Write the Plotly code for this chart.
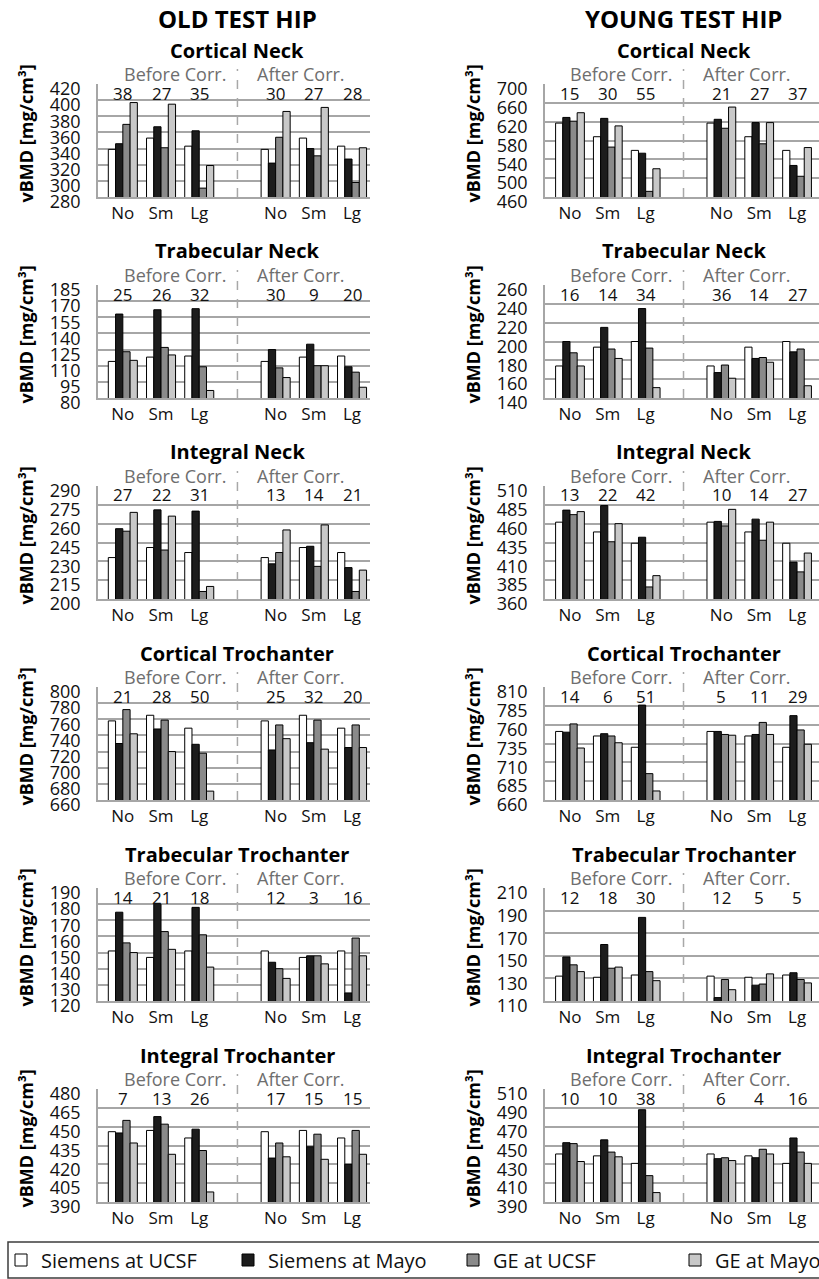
import plotly.graph_objects as go

# ---------------- data ----------------
categories = ["No", "Sm", "Lg"]
phase_labels = ["Before Corr.", "After Corr."]
series_names = ["Siemens at UCSF", "Siemens at Mayo", "GE at UCSF", "GE at Mayo"]
series_colors = ["#ffffff", "#1c1c1c", "#8a8a8a", "#c8c8c8"]
column_titles = ["OLD TEST HIP", "YOUNG TEST HIP"]
panel_titles = ["Cortical Neck", "Trabecular Neck", "Integral Neck",
                "Cortical Trochanter", "Trabecular Trochanter", "Integral Trochanter"]

# Each list of 4 rows = Siemens UCSF, Siemens Mayo, GE UCSF, GE Mayo;
# 6 values = No, Sm, Lg before correction, then No, Sm, Lg after correction.
old_cortical_neck = [
    [339, 353, 343, 339, 353, 343],
    [346, 367, 362, 322, 340, 327],
    [370, 341, 291, 354, 331, 298],
    [397, 395, 319, 386, 391, 341],
]
old_cortical_neck_cv = [38, 27, 35, 30, 27, 28]
old_cortical_neck_ticks = [280, 300, 320, 340, 360, 380, 400, 420]

young_cortical_neck = [
    [617, 588, 559, 617, 588, 559],
    [629, 627, 553, 625, 618, 527],
    [621, 566, 472, 606, 573, 504],
    [639, 611, 520, 651, 618, 565],
]
young_cortical_neck_cv = [15, 30, 55, 21, 27, 37]
young_cortical_neck_ticks = [460, 500, 540, 580, 620, 660, 700]

old_trabecular_neck = [
    [114, 118, 119, 114, 118, 119],
    [158, 162, 163, 125, 130, 109],
    [123, 127, 109, 108, 110, 104],
    [115, 120, 87, 99, 110, 90],
]
old_trabecular_neck_cv = [25, 26, 32, 30, 9, 20]
old_trabecular_neck_ticks = [80, 95, 110, 125, 140, 155, 170, 185]

young_trabecular_neck = [
    [174, 194, 200, 174, 194, 200],
    [200, 215, 235, 167, 182, 189],
    [188, 192, 193, 175, 183, 192],
    [174, 182, 151, 161, 178, 153],
]
young_trabecular_neck_cv = [16, 14, 34, 36, 14, 27]
young_trabecular_neck_ticks = [140, 160, 180, 200, 220, 240, 260]

old_integral_neck = [
    [233, 241, 237, 233, 241, 237],
    [256, 271, 270, 228, 242, 225],
    [254, 239, 206, 237, 226, 206],
    [269, 266, 210, 255, 259, 223],
]
old_integral_neck_cv = [27, 22, 31, 13, 14, 21]
old_integral_neck_ticks = [200, 215, 230, 245, 260, 275, 290]

young_integral_neck = [
    [462, 449, 434, 462, 449, 434],
    [478, 484, 442, 463, 466, 409],
    [472, 436, 376, 457, 438, 396],
    [476, 460, 391, 479, 462, 421],
]
young_integral_neck_cv = [13, 22, 42, 10, 14, 27]
young_integral_neck_ticks = [360, 385, 410, 435, 460, 485, 510]

old_cortical_trochanter = [
    [758, 765, 749, 758, 765, 749],
    [730, 748, 729, 722, 731, 725],
    [772, 759, 718, 753, 759, 753],
    [742, 720, 671, 736, 723, 725],
]
old_cortical_trochanter_cv = [21, 28, 50, 25, 32, 20]
old_cortical_trochanter_ticks = [660, 680, 700, 720, 740, 760, 780, 800]

young_cortical_trochanter = [
    [751, 745, 730, 751, 745, 730],
    [750, 748, 786, 751, 747, 772],
    [761, 745, 695, 747, 763, 753],
    [729, 736, 672, 746, 747, 734],
]
young_cortical_trochanter_cv = [14, 6, 51, 5, 11, 29]
young_cortical_trochanter_ticks = [660, 685, 710, 735, 760, 785, 810]

old_trabecular_trochanter = [
    [151, 147, 151, 151, 147, 151],
    [175, 180, 178, 144, 148, 125],
    [156, 163, 161, 140, 148, 159],
    [150, 152, 141, 134, 143, 148],
]
old_trabecular_trochanter_cv = [14, 21, 18, 12, 3, 16]
old_trabecular_trochanter_ticks = [120, 130, 140, 150, 160, 170, 180, 190]

young_trabecular_trochanter = [
    [132, 131, 133, 132, 131, 133],
    [149, 160, 184, 113, 124, 135],
    [142, 139, 136, 129, 125, 129],
    [136, 140, 128, 120, 134, 126],
]
young_trabecular_trochanter_cv = [12, 18, 30, 12, 5, 5]
young_trabecular_trochanter_ticks = [110, 130, 150, 170, 190, 210]

old_integral_trochanter = [
    [446, 447, 441, 446, 447, 441],
    [445, 458, 448, 425, 434, 420],
    [455, 452, 431, 437, 444, 447],
    [437, 428, 398, 426, 424, 428],
]
old_integral_trochanter_cv = [7, 13, 26, 17, 15, 15]
old_integral_trochanter_ticks = [390, 405, 420, 435, 450, 465, 480]

young_integral_trochanter = [
    [441, 439, 431, 441, 439, 431],
    [453, 456, 488, 436, 437, 458],
    [452, 443, 418, 437, 446, 443],
    [433, 438, 400, 434, 441, 431],
]
young_integral_trochanter_cv = [10, 10, 38, 6, 4, 16]
young_integral_trochanter_ticks = [390, 410, 430, 450, 470, 490, 510]

panels = [
    (old_cortical_neck, old_cortical_neck_cv, old_cortical_neck_ticks),
    (young_cortical_neck, young_cortical_neck_cv, young_cortical_neck_ticks),
    (old_trabecular_neck, old_trabecular_neck_cv, old_trabecular_neck_ticks),
    (young_trabecular_neck, young_trabecular_neck_cv, young_trabecular_neck_ticks),
    (old_integral_neck, old_integral_neck_cv, old_integral_neck_ticks),
    (young_integral_neck, young_integral_neck_cv, young_integral_neck_ticks),
    (old_cortical_trochanter, old_cortical_trochanter_cv, old_cortical_trochanter_ticks),
    (young_cortical_trochanter, young_cortical_trochanter_cv, young_cortical_trochanter_ticks),
    (old_trabecular_trochanter, old_trabecular_trochanter_cv, old_trabecular_trochanter_ticks),
    (young_trabecular_trochanter, young_trabecular_trochanter_cv, young_trabecular_trochanter_ticks),
    (old_integral_trochanter, old_integral_trochanter_cv, old_integral_trochanter_ticks),
    (young_integral_trochanter, young_integral_trochanter_cv, young_integral_trochanter_ticks),
]

# ---------------- layout ----------------
W, H = 819, 1279
FONT = "Open Sans"
GRID = "#a6a6a6"
col_px = [(98, 370), (545, 819)]
x_ranges = [[-0.65, 6.47], [-0.66, 6.58]]
row_top0, row_step, plot_h = 84, 201, 113

# category slot positions: before group, an empty slot for the divider, after group
n_cat = len(categories)
x_pos = list(range(n_cat)) + [n_cat + 1 + i for i in range(n_cat)]
divider_x = n_cat
x_text = categories + categories

# legend placement (one legend per series, inside a common frame)
legend_ids = ["legend", "legend2", "legend3", "legend4"]
legend_text_px = [41, 268, 493, 715]
legend_box = (8, 1242, 830, 1278)

fig = go.Figure()
layout_axes = {}
annotations = []
shapes = []

for p, (vals, cv, ticks) in enumerate(panels):
    r, c = divmod(p, 2)
    idx = p + 1
    sfx = "" if idx == 1 else str(idx)
    top = row_top0 + r * row_step
    bot = top + plot_h
    ydom = [1 - bot / H, 1 - top / H]
    xdom = [col_px[c][0] / W, col_px[c][1] / W]

    for s in range(len(series_names)):
        fig.add_trace(go.Bar(
            x=x_pos, y=vals[s], name=series_names[s],
            xaxis="x" + sfx, yaxis="y" + sfx,
            marker=dict(color=series_colors[s], line=dict(color="#000000", width=1)),
            legendgroup=series_names[s], showlegend=(p == 0), legend=legend_ids[s],
            hovertemplate="%{y}<extra>" + series_names[s] + "</extra>",
        ))

    layout_axes["xaxis" + sfx] = dict(
        domain=xdom, anchor="y" + sfx, range=x_ranges[c], automargin=False,
        tickvals=x_pos, ticktext=x_text, showgrid=False, zeroline=False,
        showline=True, linecolor=GRID, linewidth=1.5, ticks="",
        tickfont=dict(family=FONT, size=17, color="#111111"), fixedrange=True,
    )
    layout_axes["yaxis" + sfx] = dict(
        domain=ydom, anchor="x" + sfx, range=[ticks[0], ticks[-1]], automargin=False,
        tickvals=ticks, showgrid=True, gridcolor=GRID, gridwidth=1.5,
        zeroline=False, showline=True, linecolor=GRID, linewidth=1.5, ticks="",
        ticklabelstandoff=12, ticklabelshift=5,
        tickfont=dict(family=FONT, size=18, color="#111111"), fixedrange=True,
    )

    xr, yr = "x" + sfx, "y" + sfx + " domain"
    # panel title
    annotations.append(dict(text="<b>" + panel_titles[r] + "</b>", x=divider_x, xref=xr,
                            y=1 + 34 / plot_h, yref=yr, showarrow=False, yanchor="middle",
                            font=dict(family=FONT, size=20, color="#000000")))
    # before / after labels
    annotations.append(dict(text=phase_labels[0], x=divider_x - 0.25, xref=xr, xanchor="right",
                            y=1 + 10 / plot_h, yref=yr, yanchor="middle", showarrow=False,
                            font=dict(family=FONT, size=18, color="#6e6e6e")))
    annotations.append(dict(text=phase_labels[1], x=divider_x + 0.45, xref=xr, xanchor="left",
                            y=1 + 10 / plot_h, yref=yr, yanchor="middle", showarrow=False,
                            font=dict(family=FONT, size=18, color="#6e6e6e")))
    # CV numbers
    for xv, num in zip(x_pos, cv):
        annotations.append(dict(text=str(num), x=xv, xref=xr, y=1 - 9 / plot_h, yref=yr,
                                yanchor="middle", showarrow=False,
                                font=dict(family=FONT, size=17, color="#111111")))
    # divider
    shapes.append(dict(type="line", xref=xr, yref=yr, x0=divider_x, x1=divider_x,
                       y0=0, y1=1 + 15 / plot_h,
                       line=dict(color="#a8a8a8", width=1.5, dash="dash")))
    # y-axis title
    ycenter = 1 - ((top + bot) / 2 - 7) / H
    annotations.append(dict(text="<b>vBMD [mg/cm³]</b>", x=(25 if c == 0 else 472) / W,
                            xref="paper", y=ycenter, yref="paper", textangle=-90,
                            showarrow=False, xanchor="center", yanchor="middle",
                            font=dict(family=FONT, size=18, color="#000000")))

# column titles
for c in range(2):
    annotations.append(dict(text="<b>" + column_titles[c] + "</b>", x=divider_x,
                            xref="x" if c == 0 else "x2", y=1 - 18 / H, yref="paper",
                            yanchor="middle", showarrow=False,
                            font=dict(family=FONT, size=24, color="#000000")))

# legend frame
shapes.append(dict(type="rect", xref="paper", yref="paper",
                   x0=legend_box[0] / W, x1=legend_box[2] / W,
                   y0=1 - legend_box[3] / H, y1=1 - legend_box[1] / H,
                   line=dict(color="#3c3c3c", width=1.5), fillcolor="rgba(0,0,0,0)"))

legend_layout = {}
ly = 1 - (legend_box[1] + legend_box[3]) / 2 / H
for lid, tx in zip(legend_ids, legend_text_px):
    legend_layout[lid] = dict(
        orientation="h", x=(tx - 40) / W, y=ly, xanchor="left", yanchor="middle",
        borderwidth=0, bgcolor="rgba(0,0,0,0)",
        font=dict(family=FONT, size=20, color="#111111"),
    )

fig.update_layout(
    width=W, height=H, margin=dict(l=0, r=0, t=0, b=0, autoexpand=False),
    paper_bgcolor="white", plot_bgcolor="white",
    barmode="group", bargap=0.24, bargroupgap=0,
    font=dict(family=FONT, color="#111111"),
    annotations=annotations, shapes=shapes,
    **legend_layout,
    **layout_axes,
)

# remove the browser's default 8px page margin so the figure fills the window exactly
fig.write_html("out.html", config={"displayModeBar": False},
               post_script="document.body.style.margin='0';")
